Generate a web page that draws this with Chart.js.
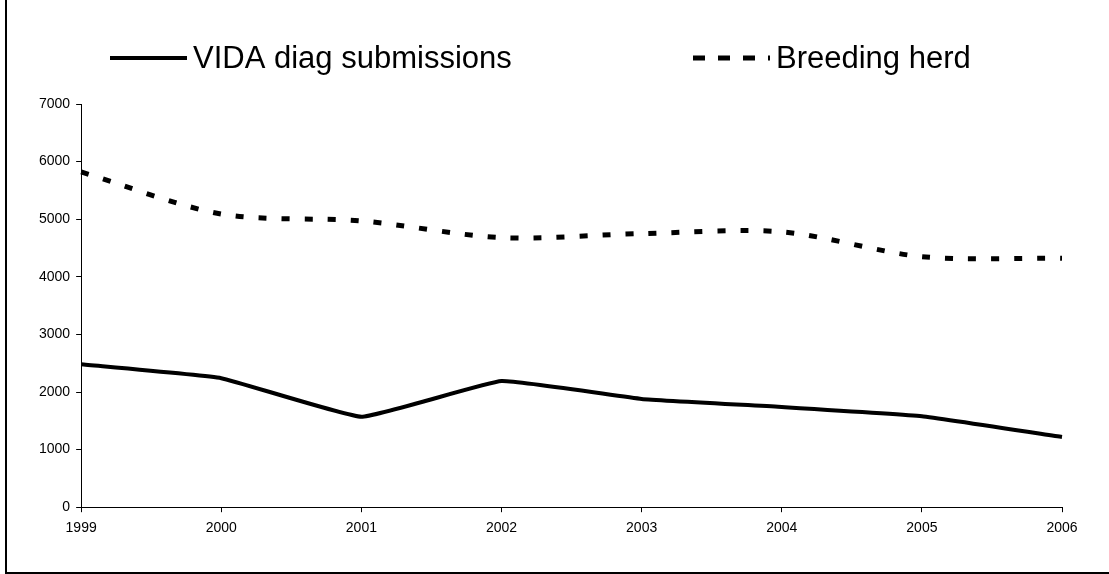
<!DOCTYPE html>
<html><head><meta charset="utf-8">
<script src="https://cdn.jsdelivr.net/npm/chart.js@4.4.1/dist/chart.umd.min.js"></script>
<style>
html,body{margin:0;padding:0;background:#fff;}
#wrap{position:relative;width:1109px;height:574px;overflow:hidden;background:#fff;}
#frame{position:absolute;left:5px;top:-10px;width:1200px;height:584px;border-left:2px solid #000;border-bottom:2px solid #000;box-sizing:border-box;}
canvas{position:absolute;left:0;top:0;}
</style></head><body>
<div id="wrap"><div id="frame"></div><canvas id="c" width="1109" height="574"></canvas></div>
<script>
const years = ['1999', '2000', '2001', '2002', '2003', '2004', '2005', '2006'];
const vidaSubmissions = [2480, 2240, 1570, 2190, 1880, 1740, 1580, 1220];
const breedingHerd = [5820, 5090, 4970, 4680, 4750, 4780, 4350, 4320];
const seriesNames = ['VIDA diag submissions', 'Breeding herd'];
const yMin = 0, yMax = 7000, yStep = 1000;

const FONT = 'Arial, "Liberation Sans", sans-serif';

const topLegend = {
  id: 'topLegend',
  afterDraw(chart) {
    const ctx = chart.ctx;
    const startX = [110, 693];
    const sampleW = 77, gap = 6, lineY = 58;
    ctx.save();
    chart.data.datasets.forEach((ds, i) => {
      const x0 = startX[i];
      ctx.beginPath();
      ctx.lineWidth = ds.legendLineWidth;
      ctx.strokeStyle = ds.borderColor;
      ctx.lineCap = 'butt';
      ctx.setLineDash(ds.legendDash);
      ctx.moveTo(x0, lineY);
      ctx.lineTo(x0 + sampleW, lineY);
      ctx.stroke();
      ctx.setLineDash([]);
      ctx.fillStyle = '#000';
      ctx.font = '31px ' + FONT;
      ctx.textBaseline = 'alphabetic';
      ctx.textAlign = 'left';
      ctx.fillText(ds.label, x0 + sampleW + gap, 68);
    });
    ctx.restore();
  }
};

new Chart(document.getElementById('c'), {
  type: 'line',
  data: {
    labels: years,
    datasets: [
      {
        label: seriesNames[0],
        data: vidaSubmissions,
        borderColor: '#000',
        borderWidth: 4,
        pointRadius: 0,
        tension: 0.1,
        fill: false,
        borderJoinStyle: 'round',
        legendDash: [],
        legendLineWidth: 4
      },
      {
        label: seriesNames[1],
        data: breedingHerd,
        borderColor: '#000',
        borderWidth: 5,
        borderDash: [8, 15],
        pointRadius: 0,
        tension: 0.3,
        fill: false,
        legendDash: [12, 13],
        legendLineWidth: 5
      }
    ]
  },
  options: {
    responsive: false,
    animation: false,
    devicePixelRatio: 1,
    layout: { padding: { left: 33, right: 47, top: 104, bottom: 29 } },
    plugins: {
      legend: { display: false },
      tooltip: { enabled: false },
      title: { display: false }
    },
    scales: {
      x: {
        type: 'category',
        offset: false,
        grid: { display: true, drawOnChartArea: false, drawTicks: true, tickLength: 5, color: '#000' },
        border: { display: true, color: '#000', width: 1 },
        ticks: { font: { family: FONT, size: 14 }, color: '#000', padding: 8, maxRotation: 0, autoSkip: false }
      },
      y: {
        min: yMin,
        max: yMax,
        grid: { display: true, drawOnChartArea: false, drawTicks: true, tickLength: 5, color: '#000' },
        border: { display: true, color: '#000', width: 1 },
        ticks: {
          stepSize: yStep,
          font: { family: FONT, size: 14 },
          color: '#000',
          padding: 6,
          callback: (v) => String(v)
        }
      }
    }
  },
  plugins: [topLegend]
});
</script>
</body></html>
